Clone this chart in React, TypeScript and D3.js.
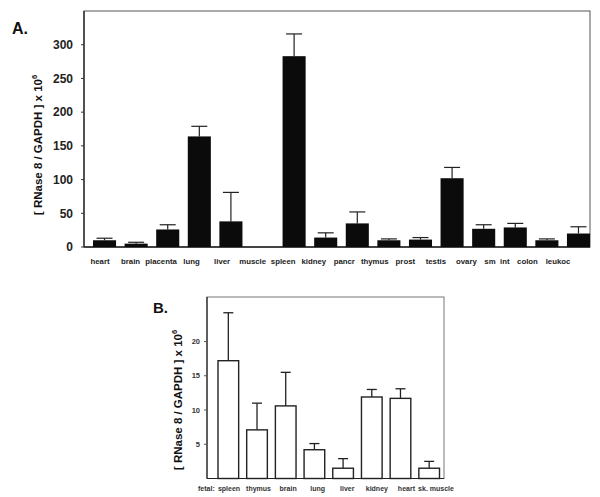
import React from "react";
import * as d3 from "d3";

// panel A: adult tissues
const tissuesA = ["heart", "brain", "placenta", "lung", "liver", "muscle", "spleen", "kidney", "pancr", "thymus", "prost", "testis", "ovary", "sm  int", "colon", "leukoc"];
const meanA = [10, 5, 26, 164, 38, 0, 283, 14, 35, 10, 11, 102, 27, 29, 10, 20];
const errTopA = [13, 7, 33, 179, 81, 0, 316, 21, 52, 12, 14, 118, 33, 35, 12, 30];
const ticksA = [0, 50, 100, 150, 200, 250, 300];

// panel B: fetal tissues
const tissuesB = ["spleen", "thymus", "brain", "lung", "liver", "kidney", "heart", "sk. muscle"];
const meanB = [17.2, 7.1, 10.6, 4.2, 1.5, 11.9, 11.7, 1.5];
const errTopB = [24.2, 11.0, 15.5, 5.1, 2.9, 13.0, 13.1, 2.5];
const ticksB = [5, 10, 15, 20];

const font = "Arial, 'Liberation Sans', sans-serif";

function YTitle({ x, y, size }: { x: number; y: number; size: number }) {
  return (
    <text transform={`translate(${x},${y}) rotate(-90)`} textAnchor="middle" fontFamily={font} fontWeight="bold" fontSize={size} fill="#111">
      [ RNase 8 / GAPDH ] x 10
      <tspan fontSize={size * 0.65} dy={-size * 0.45}>6</tspan>
    </text>
  );
}

export default function App() {
  // panel A geometry
  const A = { left: 84, top: 11, right: 590, bottom: 247 };
  const xA = d3.scaleBand<string>().domain(tissuesA).range([93, 590]).paddingInner(0.27).paddingOuter(0);
  // category labels in the original sit on their own, slightly tighter spacing
  const labA = d3.scalePoint<string>().domain(tissuesA).range([100, 558]);
  const yA = d3.scaleLinear().domain([0, 350]).range([A.bottom, A.top]);
  const capA = 16;

  // panel B geometry
  const B = { left: 207, top: 297, right: 444, bottom: 478.5 };
  const xB = d3.scaleBand<string>().domain(tissuesB).range([218, 439.5]).paddingInner(0.28).paddingOuter(0);
  const labB = d3.scalePoint<string>().domain(tissuesB).range([229, 436]);
  const yB = d3.scaleLinear().domain([0, 26.5]).range([B.bottom, B.top]);
  const capB = 10;

  return (
    <svg width={600} height={497} style={{ position: "absolute", left: 0, top: 0, background: "#fff" }}>
      {/* ---------- A ---------- */}
      <text x={12} y={34} fontFamily={font} fontWeight="bold" fontSize={16} fill="#111">A.</text>
      <rect x={A.left} y={A.top} width={A.right - A.left} height={A.bottom - A.top} fill="none" stroke="#555" strokeWidth={1} />
      <line x1={A.left} x2={A.left} y1={A.top} y2={A.bottom} stroke="#222" strokeWidth={1.3} />
      <line x1={A.left} x2={A.right} y1={A.bottom} y2={A.bottom} stroke="#222" strokeWidth={1.3} />
      {ticksA.map((t) => (
        <g key={t}>
          <line x1={A.left - 3} x2={A.left} y1={yA(t)} y2={yA(t)} stroke="#333" />
          <text x={73} y={yA(t)} dy="0.36em" textAnchor="end" fontFamily={font} fontWeight="bold" fontSize={12} fill="#222">{t}</text>
        </g>
      ))}
      {tissuesA.map((c, i) => {
        const cx = xA(c)! + xA.bandwidth() / 2;
        return (
          <g key={c}>
            {meanA[i] > 0 && (
              <>
                <line x1={cx} x2={cx} y1={yA(meanA[i])} y2={yA(errTopA[i])} stroke="#222" strokeWidth={1.2} />
                <line x1={cx - capA / 2} x2={cx + capA / 2} y1={yA(errTopA[i])} y2={yA(errTopA[i])} stroke="#222" strokeWidth={1.2} />
                <rect x={xA(c)} y={yA(meanA[i])} width={xA.bandwidth()} height={yA(0) - yA(meanA[i])} fill="#0b0b0b" />
              </>
            )}
            <text x={labA(c)} y={264} textAnchor="middle" fontFamily={font} fontWeight="bold" fontSize={7.8} fill="#222" style={{ whiteSpace: "pre" }}>{c}</text>
          </g>
        );
      })}
      <YTitle x={42} y={145} size={11.5} />

      {/* ---------- B ---------- */}
      <text x={153} y={313} fontFamily={font} fontWeight="bold" fontSize={15} fill="#111">B.</text>
      <rect x={B.left} y={B.top} width={B.right - B.left} height={B.bottom - B.top} fill="none" stroke="#777" strokeWidth={1} />
      <line x1={B.left} x2={B.left} y1={B.top} y2={B.bottom} stroke="#222" strokeWidth={1.2} />
      <line x1={B.left} x2={B.right} y1={B.bottom} y2={B.bottom} stroke="#222" strokeWidth={1.2} />
      {ticksB.map((t) => (
        <g key={t}>
          <line x1={B.left - 3} x2={B.left} y1={yB(t)} y2={yB(t)} stroke="#555" />
          <text x={200} y={yB(t)} dy="0.36em" textAnchor="end" fontFamily={font} fontWeight="bold" fontSize={7.5} fill="#333">{t}</text>
        </g>
      ))}
      {tissuesB.map((c, i) => {
        const cx = xB(c)! + xB.bandwidth() / 2;
        return (
          <g key={c}>
            <line x1={cx} x2={cx} y1={yB(meanB[i])} y2={yB(errTopB[i])} stroke="#222" strokeWidth={1.3} />
            <line x1={cx - capB / 2} x2={cx + capB / 2} y1={yB(errTopB[i])} y2={yB(errTopB[i])} stroke="#222" strokeWidth={1.3} />
            <rect x={xB(c)} y={yB(meanB[i])} width={xB.bandwidth()} height={yB(0) - yB(meanB[i])} fill="#fff" stroke="#222" strokeWidth={1.4} />
            <text x={labB(c)} y={491} textAnchor="middle" fontFamily={font} fontWeight="bold" fontSize={7} fill="#333">{c}</text>
          </g>
        );
      })}
      <text x={198} y={491} fontFamily={font} fontWeight="bold" fontSize={7} fill="#333">fetal:</text>
      <YTitle x={182} y={400} size={11.5} />
    </svg>
  );
}
